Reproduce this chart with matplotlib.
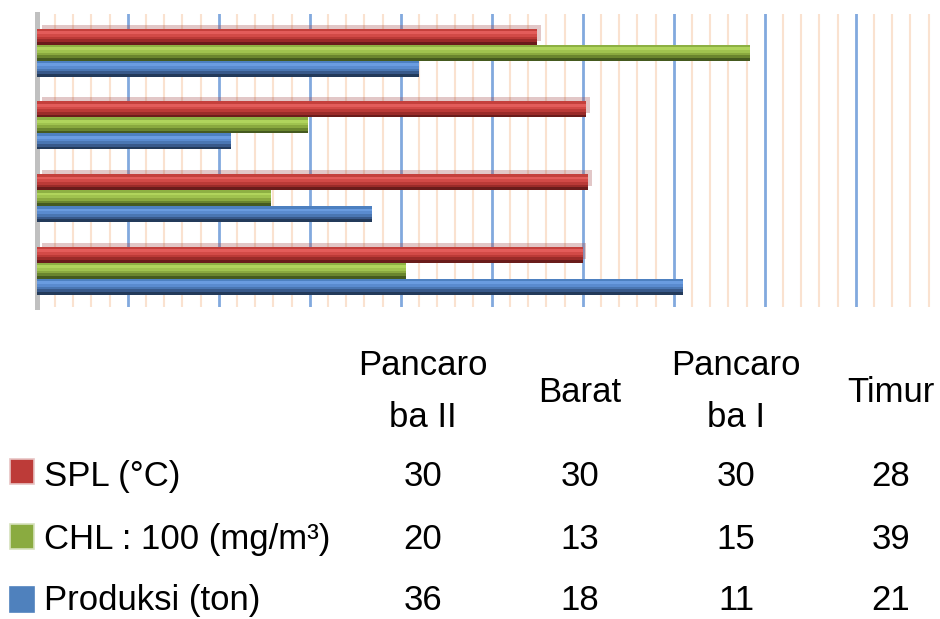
import matplotlib
matplotlib.use("Agg")
import matplotlib.pyplot as plt
from matplotlib.patches import Rectangle
import numpy as np

# data: groups listed bottom -> top (same order as the table columns)
categories = ["Pancaroba II", "Barat", "Pancaroba I", "Timur"]
col_headers = ["Pancaro\nba II", "Barat", "Pancaro\nba I", "Timur"]
series_names = ["SPL (°C)", "CHL : 100 (mg/m³)", "Produksi (ton)"]
spl = [30.0, 30.3, 30.2, 27.5]
chl = [20.3, 12.9, 14.9, 39.2]
produksi = [35.5, 18.4, 10.7, 21.0]

W, H = 940, 619
FONT = "Liberation Sans"

# shading bands (top -> bottom) to mimic the 3D cylinder look
bands = {
    "red":   ["#c4403c", "#e35c5a", "#d24a47", "#bb3a37", "#9a2b29", "#6a1c1b"],
    "green": ["#8db043", "#b0d45c", "#a0c34f", "#8aa93f", "#6a852e", "#455a1f"],
    "blue":  ["#4d80c0", "#6a9ce0", "#5a8bcf", "#4a76b2", "#38598a", "#233a5a"],
}
marker_col = {"red": ("#bd3b38", "#e8c4c4"), "green": ("#8aab40", "#d6e2bc"),
              "blue": ("#4f81bd", "#4f81bd")}

fig = plt.figure(figsize=(W / 100, H / 100), dpi=100)
x0_px, top_px, bot_px = 36.7, 14, 307
ax = fig.add_axes([x0_px / W, 1 - bot_px / H, 1 - x0_px / W, (bot_px - top_px) / H])
xmax = (W - x0_px) / 18.2
ax.set_xlim(0, xmax)
ax.set_ylim(-0.5, len(categories) - 0.47)

# grid: faint peach every unit, blue every 5
for v in range(1, int(xmax) + 1):
    if v % 5:
        ax.axvline(v, color="#fae2d0", lw=1.5, zorder=0.5)
    else:
        ax.axvline(v, color="#82a9de", lw=2.0, zorder=0.6)

y = np.arange(len(categories))
bh = 0.22
offsets = [bh, 0.0, -bh]
data = [spl, chl, produksi]
keys = ["red", "green", "blue"]

# shadow behind the red bars
ax.barh(y + bh + 0.055, np.array(spl) - 0.1, left=0.3, height=bh,
        color="#a04848", alpha=0.3, zorder=1, linewidth=0)

for vals, off, key in zip(data, offsets, keys):
    cols = bands[key]
    n = len(cols)
    sub = bh / n
    for i, c in enumerate(cols):
        yc = y + off + bh / 2 - sub * (i + 0.5)
        ax.barh(yc, vals, height=sub * 1.02, color=c, linewidth=0, zorder=2)

for s in ["top", "right", "bottom"]:
    ax.spines[s].set_visible(False)
ax.spines["left"].set_color("#c0c0c0")
ax.spines["left"].set_linewidth(3.6)
ax.spines["left"].set_zorder(1.5)
ax.set_xticks([])
ax.set_yticks([])

# data table below the chart
col_x = [423, 580, 736, 891]
row_base = [486, 549, 610]
fs = 25

def ftext(x, yb, s, ha="center"):
    fig.text(x / W, 1 - yb / H, s, ha=ha, va="baseline", fontsize=fs,
             family=FONT, color="black")

for cx, lab in zip(col_x, col_headers):
    lines = lab.split("\n")
    if len(lines) == 2:
        ftext(cx, 375, lines[0])
        ftext(cx, 427, lines[1])
    else:
        ftext(cx, 402, lines[0])

marker_top = [459, 524, 587]
for name, vals, key, yb, mt in zip(series_names, data, keys, row_base, marker_top):
    fc, ec = marker_col[key]
    fig.add_artist(Rectangle((10 / W, 1 - (mt + 25) / H), 24 / W, 25 / H,
                             transform=fig.transFigure, facecolor=fc,
                             edgecolor=ec, linewidth=1.2))
    ftext(44, yb, name, ha="left")
    for cx, v in zip(col_x, vals):
        ftext(cx, yb, f"{v:.0f}")

fig.savefig("out.png", dpi=100)
